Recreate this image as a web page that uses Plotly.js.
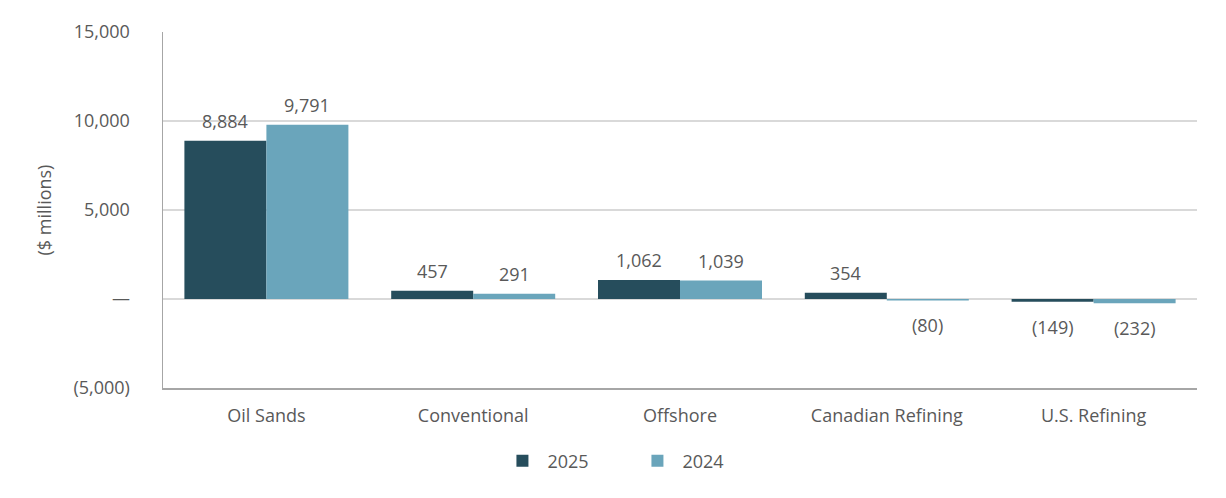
<!DOCTYPE html>
<html><head><meta charset="utf-8">
<script src="https://cdn.plot.ly/plotly-3.0.1.min.js"></script>
<style>html,body{margin:0;padding:0;background:#fff}#chart{width:1226px;height:498px}</style>
</head><body><div id="chart"></div>
<script>
const categories = ["Oil Sands", "Conventional", "Offshore", "Canadian Refining", "U.S. Refining"];
const values2025 = [8884, 457, 1062, 354, -149];
const values2024 = [9791, 291, 1039, -80, -232];
const seriesNames = ["2025", "2024"];
const yTickVals = [-5000, 0, 5000, 10000, 15000];
const yTickText = ["(5,000)", "—", "5,000", "10,000", "15,000"];

const colors = ["#264d5c", "#6aa5bb"];
const font = "'Open Sans', 'Noto Sans', sans-serif";
const grey = "#595959";
const fs = 18;

function fmt(v){ const s = Math.abs(v).toLocaleString('en-US'); return v < 0 ? "(" + s + ")" : s; }

const traces = [values2025, values2024].map((vals, i) => ({
  type: "bar", name: seriesNames[i], x: categories, y: vals,
  marker: {color: colors[i]}, hoverinfo: "none"
}));

const annotations = [];
[values2025, values2024].forEach((vals, i) => {
  vals.forEach((v, j) => {
    annotations.push({
      x: categories[j], y: v, xref: "x", yref: "y", text: fmt(v), showarrow: false,
      xshift: i === 0 ? -41 : 41,
      yanchor: v >= 0 ? "bottom" : "top",
      yshift: v >= 0 ? 6 : -11,
      font: {family: font, size: fs, color: grey}
    });
  });
});

const layout = {
  width: 1226, height: 498,
  margin: {l: 163, r: 29, t: 32, b: 110},
  paper_bgcolor: "#fff", plot_bgcolor: "#fff",
  barmode: "group", bargap: 0.207, bargroupgap: 0,
  font: {family: font, size: fs, color: grey},
  showlegend: true,
  legend: {orientation: "h", x: 0.454, xanchor: "center", y: -0.205, yanchor: "middle",
           font: {family: font, size: fs, color: grey}, itemwidth: 40,
           entrywidth: 80, entrywidthmode: "pixels", traceorder: "normal"},
  xaxis: {showgrid: false, showline: true, linecolor: "#a6a6a6", linewidth: 1.5,
          ticks: "", ticklabelstandoff: 11, tickfont: {family: font, size: fs, color: grey}, fixedrange: true},
  yaxis: {range: [-5000, 15000], tickvals: yTickVals, ticktext: yTickText,
          showgrid: true, gridcolor: "#d9d9d9", gridwidth: 1.5,
          zeroline: true, zerolinecolor: "#d9d9d9", zerolinewidth: 1.5,
          showline: true, linecolor: "#a6a6a6", linewidth: 1.5,
          ticks: "", ticklabelstandoff: 28, tickfont: {family: font, size: fs, color: grey},
          title: {text: "($ millions)", standoff: 17, font: {family: font, size: fs, color: grey}}, fixedrange: true},
  annotations: annotations
};

Plotly.newPlot("chart", traces, layout, {displayModeBar: false, staticPlot: true});
</script></body></html>
